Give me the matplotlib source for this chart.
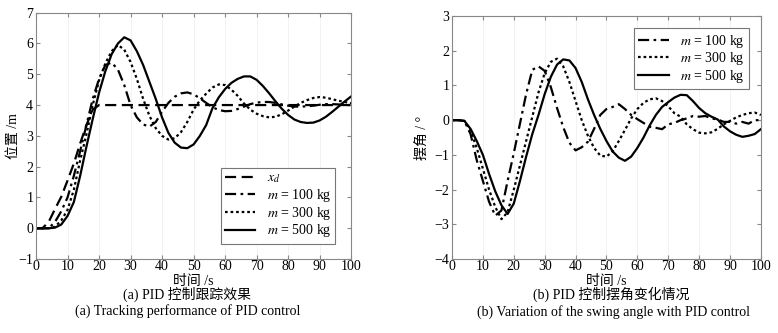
import numpy as np
import matplotlib
matplotlib.use('Agg')
import matplotlib.pyplot as plt

plt.rcParams['font.family'] = ['Liberation Serif', 'Noto Sans CJK SC']
plt.rcParams['mathtext.fontset'] = 'stix'
plt.rcParams['axes.unicode_minus'] = True

# time axis (s)
t = np.arange(0, 101, 2)

# (a) position /m
xd = [0, 0, 0.2, 0.62, 1.02, 1.55, 2.1, 2.75, 3.35, 3.85, 4.0] + [4.0] * 40
pos_100 = [0, 0, 0, 0.2, 0.55, 1.0, 1.7, 2.5, 3.35, 4.2, 4.85, 5.3, 5.38, 5.15, 4.65, 4.0,
           3.6, 3.37, 3.3, 3.45, 3.78, 4.07, 4.27, 4.38, 4.41, 4.35, 4.22, 4.07, 3.93, 3.84,
           3.8, 3.81, 3.87, 3.95, 4.03, 4.08, 4.1, 4.1, 4.07, 4.02, 3.98, 3.95, 3.95, 3.96,
           3.98, 4.01, 4.03, 4.03, 4.02, 4.0, 4.0]
pos_300 = [0, 0, 0, 0.05, 0.25, 0.6, 1.25, 2.2, 3.05, 4.0, 4.8, 5.35, 5.75, 5.95, 5.8, 5.4,
           4.85, 4.2, 3.65, 3.25, 3.0, 2.88, 2.92, 3.12, 3.45, 3.85, 4.15, 4.37, 4.57, 4.67,
           4.65, 4.5, 4.3, 4.05, 3.85, 3.72, 3.64, 3.6, 3.62, 3.7, 3.82, 3.95, 4.07, 4.16,
           4.23, 4.26, 4.24, 4.19, 4.14, 4.1, 4.06]
pos_500 = [0, 0, 0, 0.02, 0.12, 0.4, 0.85, 1.7, 2.65, 3.55, 4.4, 5.1, 5.65, 6.0, 6.2, 6.1,
           5.75, 5.3, 4.75, 4.2, 3.6, 3.1, 2.78, 2.62, 2.6, 2.72, 3.0, 3.35, 3.9, 4.25,
           4.52, 4.72, 4.85, 4.93, 4.93, 4.82, 4.62, 4.38, 4.12, 3.88, 3.68, 3.53, 3.45, 3.42,
           3.43, 3.5, 3.62, 3.78, 3.95, 4.12, 4.28]

# (b) swing angle /deg
ang_100 = [0, 0, -0.02, -0.4, -1.15, -1.75, -2.35, -2.75, -2.6, -1.75, -0.95, -0.1, 0.75,
           1.45, 1.55, 1.42, 0.95, 0.35, -0.2, -0.65, -0.87, -0.78, -0.62, -0.25, 0.15, 0.32,
           0.38, 0.46, 0.32, 0.15, 0.03, -0.08, -0.19, -0.22, -0.26, -0.12, -0.08, 0.0, 0.05,
           0.12, 0.1, 0.12, 0.05, 0.02, -0.05, -0.05, -0.1, -0.05, -0.1, 0.0, 0.0]
ang_300 = [0, 0, -0.02, -0.3, -0.8, -1.4, -2.0, -2.5, -2.85, -2.65, -2.0, -1.3, -0.6, 0.1,
           0.8, 1.35, 1.68, 1.77, 1.55, 1.1, 0.55, 0.0, -0.45, -0.8, -1.02, -1.05, -0.9, -0.6,
           -0.28, 0.05, 0.32, 0.5, 0.6, 0.63, 0.55, 0.4, 0.2, 0.1, -0.12, -0.26, -0.36, -0.38,
           -0.35, -0.25, -0.12, -0.02, 0.08, 0.15, 0.2, 0.22, 0.15]
ang_500 = [0, 0, -0.02, -0.25, -0.6, -1.0, -1.55, -2.05, -2.45, -2.7, -2.4, -1.75, -1.05,
           -0.4, 0.15, 0.75, 1.25, 1.6, 1.75, 1.72, 1.5, 1.1, 0.6, 0.15, -0.25, -0.6, -0.9,
           -1.08, -1.17, -1.05, -0.8, -0.5, -0.15, 0.15, 0.38, 0.52, 0.65, 0.73, 0.72, 0.55,
           0.35, 0.2, 0.1, 0.02, -0.18, -0.32, -0.42, -0.48, -0.45, -0.4, -0.26]

lab = [r'$m$ = 100 kg', r'$m$ = 300 kg', r'$m$ = 500 kg']

fig = plt.figure(figsize=(7.78, 3.33), dpi=100)
ax1 = fig.add_axes([0.0463, 0.222, 0.405, 0.740])
ax2 = fig.add_axes([0.581, 0.222, 0.397, 0.730])

lw = 1.6
ax1.plot(t, xd, 'k', ls=(0, (5, 2.5)), lw=lw, label=r'$x_d$')
ax1.plot(t, pos_100, 'k', ls=(0, (5, 2, 1.2, 2)), lw=lw, label=lab[0])
ax1.plot(t, pos_300, 'k', ls=(0, (1.2, 1.3)), lw=lw, label=lab[1])
ax1.plot(t, pos_500, 'k', ls='-', lw=lw, label=lab[2])

ax2.plot(t, ang_100, 'k', ls=(0, (5, 2, 1.2, 2)), lw=lw, label=lab[0])
ax2.plot(t, ang_300, 'k', ls=(0, (1.2, 1.3)), lw=lw, label=lab[1])
ax2.plot(t, ang_500, 'k', ls='-', lw=lw, label=lab[2])

for ax in (ax1, ax2):
    ax.set_xlim(0, 100)
    ax.set_xticks(range(0, 101, 10))
    ax.tick_params(direction='in', top=True, right=True, labelsize=10, length=3,
                   color='#888888', pad=2)
    ax.tick_params(axis='x', pad=0.5)
    for s in ax.spines.values():
        s.set_color('#888888')
        s.set_linewidth(0.8)
    ax.grid(axis='x', color='#f0f0f0', lw=0.6)
    ax.set_axisbelow(True)
    ax.set_xlabel('时间 /s', fontsize=10, va='center')

ax1.xaxis.set_label_coords(0.5, -0.092)
ax2.xaxis.set_label_coords(0.5, -0.094)

ax1.set_ylim(-1, 7)
ax1.set_yticks(range(-1, 8))
ax1.set_ylabel('位置 /m', fontsize=10, va='center')
ax1.yaxis.set_label_coords(-0.07, 0.5)
ax2.set_ylim(-4, 3)
ax2.set_yticks(range(-4, 4))
ax2.set_ylabel('摆角 / °', fontsize=10, va='center')
ax2.yaxis.set_label_coords(-0.097, 0.5)

leg_kw = dict(fontsize=10, fancybox=False, framealpha=1, edgecolor='#777777',
              labelspacing=0.05, handlelength=2.2, handletextpad=0.8, borderpad=0.3,
              borderaxespad=0)
l1 = ax1.legend(loc='lower right', bbox_to_anchor=(0.95, 0.063), **leg_kw)
l2 = ax2.legend(loc='upper right', bbox_to_anchor=(0.961, 0.949), **leg_kw)
for l in (l1, l2):
    l.get_frame().set_linewidth(0.8)

fig.text(0.241, 0.115, '(a) PID 控制跟踪效果', ha='center', va='center', fontsize=10)
fig.text(0.241, 0.066, '(a) Tracking performance of PID control', ha='center', va='center', fontsize=10)
fig.text(0.785, 0.115, '(b) PID 控制摆角变化情况', ha='center', va='center', fontsize=10)
fig.text(0.789, 0.062, '(b) Variation of the swing angle with PID control', ha='center', va='center', fontsize=10)

fig.savefig('out.png', dpi=100)
